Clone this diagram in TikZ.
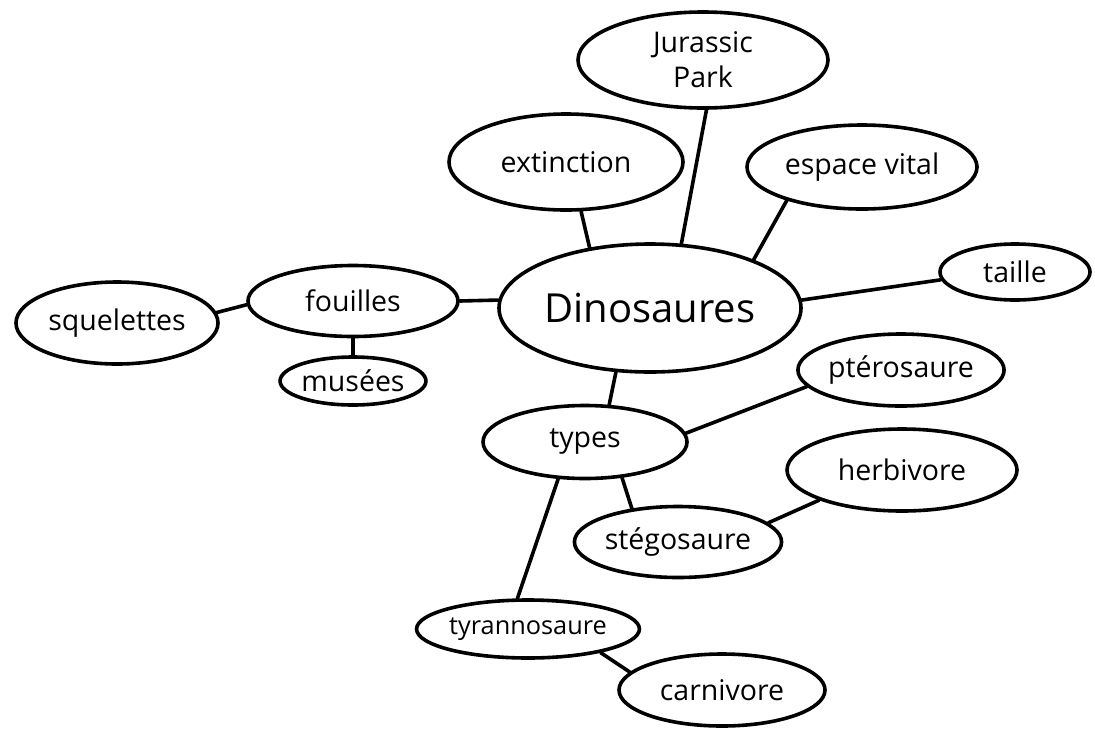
\documentclass[tikz,border=0pt]{standalone}
\usepackage{fontspec}
\setmainfont{Open Sans}
\usetikzlibrary{shapes.geometric}
\tikzset{
  bubble/.style={ellipse, draw=black, line width=3.6pt, fill=white, inner sep=0pt,
    align=center, font=\fontsize{28.5}{35}\selectfont},
  link/.style={draw=black, line width=3.6pt, line cap=round}
}
\begin{document}
\begin{tikzpicture}[x=1pt,y=-1pt]
\useasboundingbox (0,0) rectangle (1095,729);
\fill[white] (0,0) rectangle (1095,729);

\node[bubble, minimum width=250pt, minimum height=96pt] (jp) at (703,60) {Jurassic\\Park};
\node[bubble, minimum width=234pt, minimum height=96pt] (ext) at (566,162) {extinction};
\node[bubble, minimum width=230pt, minimum height=84pt] (esp) at (862,167) {espace vital};
\node[bubble, minimum width=302pt, minimum height=128pt, font=\fontsize{40}{46}\selectfont] (dino) at (650,308) {Dinosaures};
\node[bubble, minimum width=150pt, minimum height=56pt] (taille) at (1015,272) {taille};
\node[bubble, minimum width=210pt, minimum height=71pt] (fou) at (353,301) {fouilles};
\node[bubble, minimum width=202pt, minimum height=82pt] (squ) at (117,323) {squelettes};
\node[bubble, minimum width=128pt, minimum height=48pt] (mus) at (353,381) {musées};
\node[bubble, minimum width=204pt, minimum height=72pt] (pte) at (901,370) {ptérosaure};
\node[bubble, minimum width=204pt, minimum height=73pt] (types) at (585,442) {types};
\node[bubble, minimum width=230pt, minimum height=82pt] (herb) at (902,470) {herbivore};
\node[bubble, minimum width=190pt, minimum height=71pt] (steg) at (678,542) {stégosaure};
\node[bubble, minimum width=186pt, minimum height=58pt, font=\fontsize{25.3}{30}\selectfont] (tyr) at (528,629) {tyrannosaure};
\node[bubble, minimum width=206pt, minimum height=72pt] (carn) at (722,690) {carnivore};

\path[link] (jp.-86) -- (dino.64);
\path[link] (ext.-73) -- (dino.135);
\path[link] (esp.-156) -- (dino.25.5);
\path[link] (taille.-174) -- (dino.3.7);
\path[link] (fou.0.5) -- (dino.177.4);
\path[link] (squ.6) -- (fou.182.7);
\path[link] (fou.-90) -- (mus.90);
\path[link] (dino.-118) -- (types.57);
\path[link] (types.5) -- (pte.-170);
\path[link] (types.-44) -- (steg.144);
\path[link] (types.-126) -- (tyr.109.5);
\path[link] (steg.12) -- (herb.-160.6);
\path[link] (tyr.-18) -- (carn.169);
\end{tikzpicture}
\end{document}
